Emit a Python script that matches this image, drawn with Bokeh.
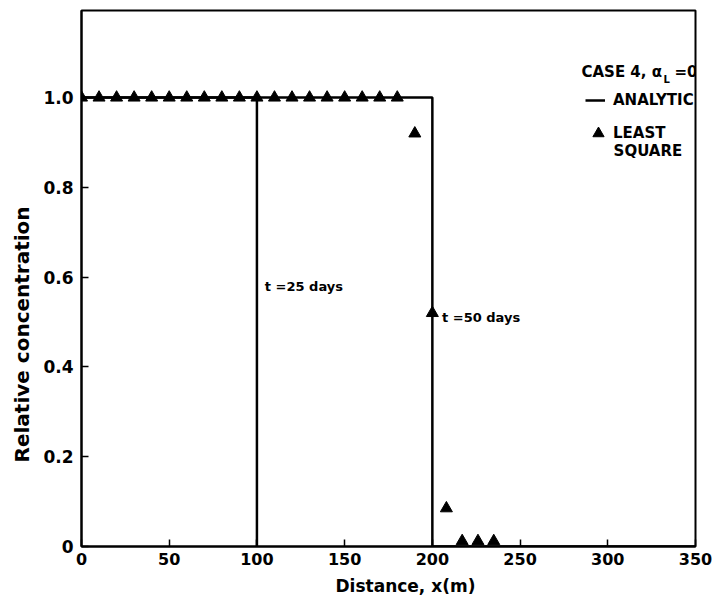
from bokeh.plotting import figure
from bokeh.models import (Range1d, FixedTicker, Label, Legend, LegendItem, Title)
from bokeh.embed import file_html
from bokeh.resources import INLINE

# ---- data ----
x_t25 = [0, 100, 100]
c_t25 = [1.0, 1.0, 0.0]
x_t50 = [0, 200, 200, 350]
c_t50 = [1.0, 1.0, 0.0, 0.0]

x_ls = [0, 10, 20, 30, 40, 50, 60, 70, 80, 90, 100, 110, 120, 130, 140, 150,
        160, 170, 180, 190, 200, 208, 217, 226, 235]
c_ls = [1.0, 1.0, 1.0, 1.0, 1.0, 1.0, 1.0, 1.0, 1.0, 1.0, 1.0, 1.0, 1.0, 1.0,
        1.0, 1.0, 1.0, 1.0, 1.0, 0.92, 0.52, 0.085, 0.012, 0.012, 0.012]

x_ticks = [0, 50, 100, 150, 200, 250, 300, 350]
y_ticks = [0, 0.2, 0.4, 0.6, 0.8, 1.0]
y_tick_labels = ["0", "0.2", "0.4", "0.6", "0.8", "1.0"]

FONT = "DejaVu Sans"

p = figure(width=718, height=604, output_backend="svg", toolbar_location=None,
           x_range=Range1d(0, 350), y_range=Range1d(0, 1.194),
           min_border_left=81, min_border_right=23, min_border_top=10,
           min_border_bottom=58)

p.background_fill_color = "white"
p.border_fill_color = "white"
p.outline_line_color = "black"
p.outline_line_width = 2
p.xgrid.visible = False
p.ygrid.visible = False

for ax in (p.xaxis[0], p.yaxis[0]):
    ax.axis_line_width = 2
    ax.major_tick_in = 7
    ax.major_tick_out = 0
    ax.major_tick_line_width = 1.5
    ax.minor_tick_line_color = None
    ax.major_label_text_font = FONT
    ax.major_label_text_font_style = "bold"
    ax.major_label_text_color = "black"

p.xaxis.major_label_text_font_size = "16px"
p.yaxis.major_label_text_font_size = "17px"
p.xaxis.ticker = FixedTicker(ticks=x_ticks)
p.yaxis.ticker = FixedTicker(ticks=y_ticks)
p.yaxis.major_label_overrides = {t: s for t, s in zip(y_ticks, y_tick_labels)}
p.xaxis.major_label_standoff = 6
p.yaxis.major_label_standoff = 8

# axis titles as side titles (off-centre as in the original)
xt = Title(text="Distance, x(m)", align="left", offset=254, standoff=13,
           text_font=FONT, text_font_style="bold", text_font_size="17px",
           text_color="black")
p.add_layout(xt, "below")
yt = Title(text="Relative concentration", align="left", offset=84, standoff=14,
           text_font=FONT, text_font_style="bold", text_font_size="20px",
           text_color="black")
p.add_layout(yt, "left")

r25 = p.line(x_t25, c_t25, line_color="black", line_width=2.5)
r50 = p.line(x_t50, c_t50, line_color="black", line_width=2.5)
rls = p.scatter(x_ls, c_ls, marker="triangle", size=12, fill_color="black",
                line_color="black")

lab_style = dict(text_font=FONT, text_font_style="bold", text_color="black",
                 text_baseline="middle")

p.add_layout(Label(x=104.5, y=0.579, text="t =25 days", text_font_size="13px", **lab_style))
p.add_layout(Label(x=205.5, y=0.51, text="t =50 days", text_font_size="13px", **lab_style))

# legend header
p.add_layout(Label(x=285, y=1.056, text="CASE 4, α", text_font_size="15px", **lab_style))
p.add_layout(Label(x=285, y=1.056, x_offset=82, y_offset=-7, text="L",
                   text_font_size="10px", **lab_style))
p.add_layout(Label(x=285, y=1.056, x_offset=93, text="=0", text_font_size="15px", **lab_style))


def style_legend(lg):
    lg.background_fill_alpha = 0
    lg.border_line_alpha = 0
    lg.label_text_font = FONT
    lg.label_text_font_style = "bold"
    lg.label_text_font_size = "15px"
    lg.label_text_color = "black"
    lg.padding = 0
    lg.margin = 0
    lg.spacing = 0


leg1 = Legend(items=[LegendItem(label="ANALYTIC", renderers=[r50])], location=(504, 436))
style_legend(leg1)
leg1.glyph_width = 20
leg1.glyph_height = 20
leg1.label_standoff = 8
p.add_layout(leg1)

leg2 = Legend(items=[LegendItem(label="LEAST", renderers=[rls])], location=(503, 399))
style_legend(leg2)
leg2.glyph_width = 28
leg2.glyph_height = 28
leg2.label_standoff = 1
p.add_layout(leg2)

p.add_layout(Label(x=303.3, y=0.882, text="SQUARE", text_font_size="15px", **lab_style))

open("out.html", "w").write(file_html(p, INLINE))
